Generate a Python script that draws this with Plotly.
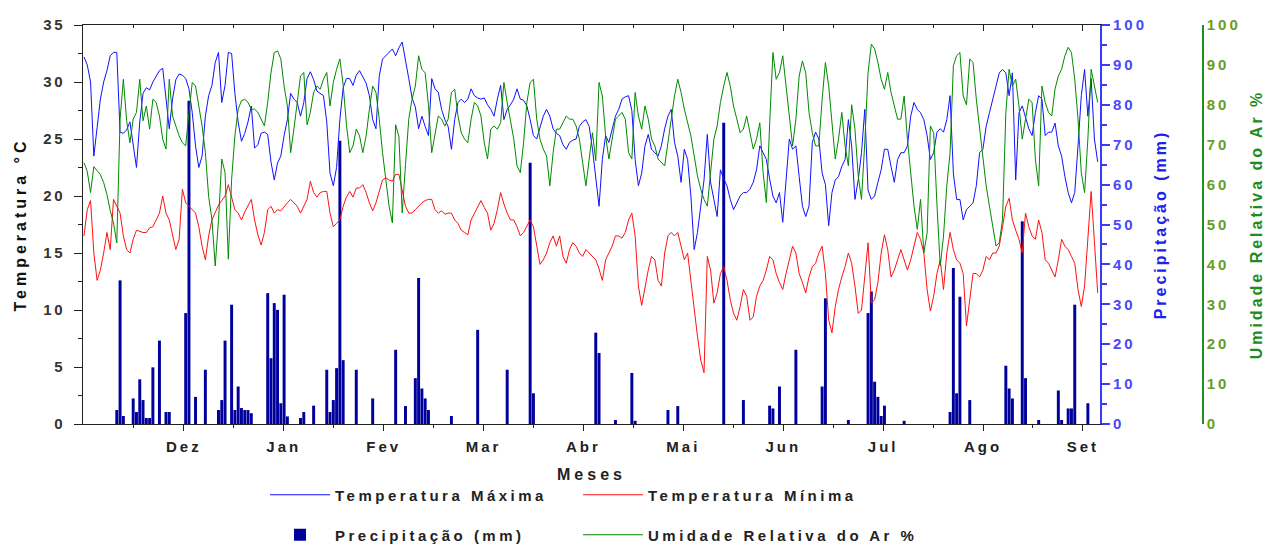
import plotly.graph_objects as go

# ---------------- data (daily, day 0 = start of Nov) ----------------
tmax = [
    32.2, 31.5, 30.0, 23.5, 26.0, 28.5, 30.0, 31.0, 32.3, 32.6,
    32.6, 25.6, 25.5, 25.8, 26.5, 24.5, 22.5, 26.5, 29.0, 29.5,
    29.3, 30.0, 30.5, 31.0, 31.2, 28.5, 25.9, 28.5, 30.2, 30.7,
    30.6, 30.3, 29.4, 27.3, 24.4, 22.5, 23.5, 27.0, 28.8, 29.7,
    31.7, 32.6, 28.2, 29.7, 32.6, 32.5, 29.0, 26.5, 24.8, 25.5,
    26.5, 27.9, 24.2, 24.5, 25.5, 25.6, 25.4, 23.0, 21.4, 22.9,
    23.5, 25.3, 26.7, 29.0, 28.5, 28.2, 27.0, 28.2, 30.3, 30.9,
    30.2, 29.2, 29.0, 28.8, 26.5, 22.0, 20.9, 22.5, 26.7, 29.5,
    30.3, 30.3, 29.7, 30.6, 31.0, 30.5, 29.9, 28.8, 26.7, 25.9,
    30.5, 32.0, 32.3, 32.6, 32.9, 32.3, 33.0, 33.5, 32.0, 30.3,
    28.6, 27.8, 25.9, 27.0, 26.1, 25.3, 30.3, 29.4, 29.1, 27.6,
    26.7, 26.1, 24.1, 26.7, 28.2, 28.5, 28.2, 28.5, 29.4, 28.8,
    28.6, 28.5, 28.6, 28.0, 27.6, 27.0, 28.5, 29.7, 26.7, 27.6,
    28.0, 28.5, 29.4, 28.5, 28.4, 27.9, 26.7, 25.3, 25.0, 25.9,
    27.0, 27.6, 27.0, 25.9, 25.5, 25.3, 24.5, 24.1, 24.7, 24.9,
    25.0, 26.1, 26.5, 26.7, 26.1, 24.1, 21.5, 19.1, 23.2, 25.3,
    24.7, 25.9, 27.0, 27.6, 28.5, 28.7, 28.8, 27.5, 23.2, 20.9,
    22.0, 24.4, 25.4, 24.1, 23.8, 23.5, 24.4, 25.9, 27.0, 27.6,
    24.7, 23.5, 21.2, 24.1, 23.2, 20.0, 15.3, 16.8, 19.1, 21.4,
    25.4, 21.2, 19.7, 18.2, 22.3, 21.5, 20.9, 19.7, 18.8, 19.4,
    20.0, 20.3, 20.3, 20.6, 21.2, 22.3, 24.4, 23.8, 23.2, 21.5,
    20.0, 19.4, 20.3, 17.7, 21.4, 25.0, 24.1, 24.4, 21.7, 19.1,
    18.2, 19.1, 24.7, 25.6, 25.0, 22.0, 21.0, 17.4, 20.3, 21.4,
    21.7, 22.6, 23.2, 26.7, 24.4, 19.7, 21.4, 23.8, 27.6, 20.5,
    19.7, 20.0, 21.2, 22.3, 24.1, 24.1, 22.6, 21.2, 23.2, 23.8,
    23.8, 24.4, 27.0, 28.2, 27.6, 27.3, 26.7, 25.3, 23.2, 23.8,
    25.6, 25.9, 25.6, 26.7, 28.8, 22.0, 19.7, 19.7, 17.9, 18.8,
    19.1, 19.4, 20.9, 23.8, 24.1, 26.1, 27.3, 28.5, 29.7, 30.8,
    31.1, 30.8, 28.8, 30.8, 21.4, 27.3, 27.9, 27.0, 25.9, 25.3,
    27.3, 28.8, 28.5, 25.3, 25.6, 25.6, 26.4, 24.4, 23.5, 21.7,
    20.3, 19.4, 20.3, 24.4, 28.8, 31.1, 27.0, 30.3, 25.0, 23.0,
]

tmin = [
    16.5, 18.8, 19.6, 15.0, 12.6, 13.5, 15.0, 16.8, 15.3, 19.7,
    19.1, 18.5, 16.5, 15.3, 15.0, 16.2, 17.0, 16.9, 16.8, 16.8,
    17.2, 17.3, 17.9, 18.5, 20.0, 18.5, 17.9, 16.5, 15.3, 16.2,
    20.6, 19.4, 19.1, 18.8, 18.5, 17.3, 15.6, 14.4, 16.5, 17.9,
    18.5, 19.2, 19.6, 20.0, 21.0, 19.9, 18.8, 18.5, 17.9, 18.6,
    19.1, 19.7, 17.9, 16.6, 15.7, 16.8, 18.8, 19.1, 18.5, 18.8,
    18.7, 19.1, 19.4, 19.7, 19.4, 19.1, 18.5, 19.1, 19.7, 21.3,
    20.3, 19.9, 20.3, 20.4, 20.4, 18.5, 17.3, 17.6, 17.9, 19.1,
    19.9, 20.4, 19.9, 20.7, 20.7, 21.0, 20.3, 19.4, 18.7, 19.4,
    20.4, 21.4, 21.6, 21.4, 21.3, 21.9, 21.9, 20.4, 19.1, 18.5,
    18.5, 18.8, 19.1, 19.4, 19.6, 19.7, 19.7, 18.8, 18.5, 18.7,
    18.4, 18.5, 18.5, 17.9, 17.6, 17.0, 16.8, 16.6, 17.9, 18.5,
    19.1, 19.6, 19.0, 18.5, 17.0, 17.6, 18.8, 20.3, 19.3, 18.5,
    17.9, 17.9, 17.3, 16.5, 16.8, 17.3, 17.9, 17.3, 15.6, 14.0,
    14.4, 15.0, 15.9, 16.5, 15.6, 16.5, 14.7, 14.1, 15.3, 15.9,
    15.6, 15.0, 14.7, 15.3, 15.0, 14.7, 14.4, 13.6, 12.6, 14.4,
    15.0, 15.6, 16.5, 16.5, 16.3, 16.8, 17.9, 18.5, 16.5, 12.1,
    10.4, 12.1, 13.5, 14.7, 14.4, 12.6, 12.1, 15.0, 16.5, 16.8,
    16.5, 16.8, 15.6, 14.4, 15.0, 12.6, 9.7, 7.7, 5.6, 4.5,
    14.7, 13.5, 10.6, 11.5, 13.2, 13.8, 12.6, 10.9, 9.7, 9.1,
    10.3, 11.8, 11.2, 9.1, 9.4, 11.2, 12.1, 12.6, 13.5, 14.7,
    14.4, 13.2, 12.4, 11.8, 13.2, 14.4, 15.6, 15.0, 13.2, 12.4,
    11.5, 12.9, 13.8, 14.1, 15.0, 15.6, 13.2, 9.1, 8.0, 10.3,
    11.8, 12.9, 13.8, 15.0, 14.1, 12.1, 9.7, 10.0, 13.2, 15.9,
    10.6, 10.9, 12.4, 15.0, 16.6, 15.3, 12.9, 13.5, 14.4, 15.3,
    14.4, 13.5, 14.4, 15.6, 16.8, 16.2, 15.0, 11.8, 9.9, 11.2,
    13.2, 14.4, 11.8, 15.0, 16.8, 15.3, 14.4, 14.1, 13.2, 8.6,
    11.0, 13.2, 13.2, 12.9, 13.5, 14.7, 14.4, 15.0, 15.0, 15.6,
    17.3, 19.1, 19.8, 17.9, 17.0, 16.2, 15.0, 18.5, 17.3, 16.5,
    16.2, 17.9, 16.8, 14.4, 14.1, 13.5, 12.9, 14.4, 16.2, 15.6,
    15.3, 14.7, 14.1, 11.8, 10.3, 12.1, 16.0, 20.4, 16.0, 11.5,
]

umidade = [
    65.5, 63.3, 58.0, 64.5, 63.5, 62.5, 60.5, 57.5, 53.5, 50.4,
    45.4, 76.4, 86.4, 76.0, 70.5, 76.4, 78.1, 86.4, 76.0, 79.7,
    73.9, 81.4, 80.6, 77.2, 71.4, 68.9, 86.4, 77.2, 74.7, 72.2,
    70.5, 69.7, 78.0, 85.6, 84.7, 79.7, 74.7, 68.0, 57.0, 51.3,
    39.6, 51.0, 66.4, 63.0, 41.3, 61.3, 72.2, 78.9, 81.0, 81.4,
    80.6, 78.9, 78.9, 78.1, 76.4, 74.7, 80.6, 88.0, 93.1, 93.5,
    91.5, 84.7, 79.7, 68.0, 74.0, 80.6, 87.2, 88.1, 75.0, 78.1,
    83.1, 84.7, 83.9, 86.4, 88.1, 79.7, 85.6, 88.9, 91.5, 85.0,
    75.0, 68.0, 69.7, 73.9, 72.2, 68.0, 72.2, 78.9, 84.7, 83.1,
    76.4, 68.0, 61.3, 54.6, 50.4, 75.0, 72.0, 52.9, 65.0, 76.4,
    81.4, 84.7, 92.3, 88.9, 88.0, 80.0, 68.0, 72.2, 77.2, 76.4,
    74.7, 76.4, 83.1, 83.9, 77.2, 73.0, 71.4, 70.5, 76.4, 80.6,
    79.7, 77.2, 70.5, 66.4, 73.9, 74.7, 73.9, 75.5, 85.6, 80.6,
    75.5, 71.4, 64.7, 63.0, 70.5, 80.6, 85.6, 86.4, 76.4, 71.4,
    68.9, 67.2, 59.7, 68.0, 73.9, 73.9, 75.5, 77.2, 76.4, 76.4,
    74.7, 71.4, 65.5, 59.7, 66.4, 73.0, 66.0, 85.6, 82.2, 72.2,
    66.4, 71.4, 76.4, 77.2, 78.1, 76.4, 68.0, 66.4, 83.1, 77.2,
    73.9, 79.7, 76.4, 71.4, 69.7, 66.4, 65.5, 64.7, 70.5, 76.4,
    82.2, 86.4, 83.1, 78.9, 75.5, 72.2, 67.2, 62.2, 58.8, 56.3,
    54.6, 63.0, 71.4, 74.7, 80.6, 84.7, 88.1, 84.7, 79.7, 76.4,
    73.0, 73.9, 77.2, 73.0, 68.9, 71.4, 75.5, 63.0, 55.5, 75.0,
    93.1, 86.4, 88.1, 92.3, 84.7, 76.4, 69.7, 76.4, 87.2, 91.0,
    88.0, 78.1, 73.0, 69.7, 69.7, 81.4, 90.6, 84.7, 76.4, 66.4,
    71.4, 78.1, 69.7, 64.7, 80.0, 73.9, 62.2, 56.3, 70.5, 88.1,
    95.2, 94.0, 90.6, 86.4, 83.9, 88.1, 83.1, 79.7, 76.4, 76.4,
    82.2, 71.4, 63.8, 54.6, 48.8, 56.3, 42.9, 47.9, 74.7, 73.0,
    55.0, 39.6, 47.1, 59.7, 68.0, 89.8, 92.3, 93.1, 82.2, 80.0,
    91.5, 90.6, 81.4, 73.9, 68.0, 59.7, 54.6, 49.6, 44.6, 45.4,
    51.3, 78.1, 88.9, 84.7, 86.4, 79.7, 71.4, 76.4, 81.4, 80.6,
    66.4, 59.7, 84.7, 80.6, 78.1, 77.2, 84.0, 87.2, 88.9, 92.3,
    94.4, 93.1, 86.4, 76.4, 63.0, 58.0, 71.4, 88.9, 84.7, 80.6,
]

precip_days = [10, 11, 12, 15, 16, 17, 18, 19, 20, 21, 23, 25, 26, 31, 32, 34, 37, 41, 42, 43,
               45, 46, 47, 48, 49, 50, 51,
               56, 57, 58, 59, 60, 61, 62, 66, 67, 70, 74, 75, 76, 77, 78, 79, 83, 88, 95, 98,
               101, 102, 103, 104, 105,
               112, 120, 129, 136, 137, 156, 157, 162, 167, 168, 178, 181, 195, 201, 209, 210,
               212, 217, 225, 226, 233, 239, 240, 241, 242, 243, 244, 250,
               264, 265, 266, 267, 270, 281, 282, 283, 286, 287, 291, 297, 298, 300, 301, 302, 306]
precip_mm = [3.5, 36.0, 2.0, 6.4, 3.0, 11.2, 6.0, 1.5, 1.5, 14.2, 20.9, 3.0, 3.0, 27.8, 81.0, 6.8, 13.6, 3.5, 6.0, 20.9,
             29.9, 3.5, 9.4, 4.0, 3.5, 3.5, 2.7,
             32.8, 16.5, 30.3, 28.6, 5.2, 32.4, 1.9, 1.5, 3.0, 4.6, 13.6, 3.0, 6.0, 14.0, 71.0, 16.0, 13.6, 6.4, 18.6, 4.5,
             11.5, 36.6, 8.9, 6.4, 3.5,
             2.0, 23.6, 13.6, 65.5, 7.7, 22.9, 17.8, 1.0, 12.8, 0.8, 3.5, 4.5, 75.5, 6.0, 4.6, 3.9,
             9.4, 18.6, 9.4, 31.5, 1.0, 27.8, 33.2, 10.6, 6.8, 2.0, 4.6, 0.8,
             3.0, 39.1, 7.7, 31.9, 6.0, 14.6, 8.9, 6.4, 50.8, 11.5, 1.0, 8.4, 1.0, 3.9, 3.9, 29.9, 5.2]

month_labels = ["Dez", "Jan", "Fev", "Mar", "Abr", "Mai", "Jun", "Jul", "Ago", "Set"]
temp_ticks = [0, 5, 10, 15, 20, 25, 30, 35]
pct_ticks = [0, 10, 20, 30, 40, 50, 60, 70, 80, 90, 100]

# ---------------- helpers / geometry ----------------
FONT = "Liberation Sans"


def sp(text, px):
    return '<span style="letter-spacing:%spx">%s</span>' % (px, text)


days = list(range(len(tmax)))
month_len = 30.45
tick_days = [month_len * (i + 1) for i in range(len(month_labels))]
mid_days = [month_len * (i + 0.5) for i in range(len(month_labels))]
xr = [-0.3, 309.7]

W, H = 1268, 547
ML, MR, MT, MB = 83, 50, 25, 123
PW = W - ML - MR
XD = (1100 - ML) / PW
P3 = (1203 - ML) / PW

fig = go.Figure()
fig.add_trace(go.Bar(
    x=precip_days, y=precip_mm, name=sp("Precipitação (mm)", 3.5),
    marker=dict(color="#00009c", line=dict(width=0)), width=0.9,
    xaxis="x", yaxis="y", legend="legend3"))
fig.add_trace(go.Scatter(
    x=days, y=tmax, mode="lines", name=sp("Temperatura Máxima", 3.5),
    line=dict(color="#1010ff", width=1), xaxis="x", yaxis="y2", legend="legend"))
fig.add_trace(go.Scatter(
    x=days, y=tmin, mode="lines", name=sp("Temperatura Mínima", 3.5),
    line=dict(color="#ff1010", width=1), xaxis="x", yaxis="y2", legend="legend2"))
fig.add_trace(go.Scatter(
    x=days, y=umidade, mode="lines", name=sp("Umidade Relativa do Ar %", 3.5),
    line=dict(color="#008a00", width=1), xaxis="x", yaxis="y3", legend="legend4"))
# carrier for the top (mirrored, inward) tick axis
fig.add_trace(go.Scatter(x=[None], y=[None], xaxis="x2", yaxis="y",
                         showlegend=False, hoverinfo="skip"))

blue = "#3a3aff"
green_line = "#1f8f1f"
COL1 = (265 - ML) / PW
COL2 = (578 - ML) / PW
ROW1 = (424 - 495) / 399
ROW2 = (424 - 535) / 399
leg_common = dict(
    orientation="h", xanchor="left", yanchor="middle", itemwidth=60,
    font=dict(family=FONT, size=15, weight="bold", color="#222"),
    bgcolor="rgba(0,0,0,0)", borderwidth=0,
)
fig.update_layout(
    width=W, height=H,
    margin=dict(l=ML, r=MR, t=MT, b=MB, autoexpand=False),
    paper_bgcolor="white", plot_bgcolor="white",
    font=dict(family=FONT, size=15, color="#222"),
    barmode="overlay",
    xaxis=dict(
        domain=[0, XD], range=xr, anchor="y",
        tickmode="array", tickvals=tick_days,
        ticktext=[sp(m, 3) for m in month_labels],
        ticks="outside", ticklen=6, tickwidth=1, tickcolor="#222",
        minor=dict(tickvals=mid_days, ticks="outside", ticklen=3, tickcolor="#222"),
        showline=True, linecolor="#222", linewidth=1, mirror=True,
        showgrid=False, zeroline=False, ticklabelstandoff=3,
        tickfont=dict(family=FONT, size=15, weight="bold", color="#222"),
        title=dict(text=sp("Meses", 4), standoff=14,
                   font=dict(family=FONT, size=16, weight="bold", color="#222")),
    ),
    xaxis2=dict(
        overlaying="x", side="top", anchor="y", range=xr,
        tickmode="array", tickvals=tick_days, ticks="inside", ticklen=6,
        tickcolor="#222", showticklabels=False,
        minor=dict(tickvals=mid_days, ticks="inside", ticklen=3, tickcolor="#222"),
        showline=False, showgrid=False, zeroline=False,
    ),
    yaxis=dict(
        side="right", anchor="x", range=[0, 100],
        tickmode="array", tickvals=pct_ticks, ticktext=[sp(v, 3) for v in pct_ticks],
        ticks="outside", ticklen=8, tickwidth=1.5, tickcolor=blue,
        minor=dict(dtick=5, tick0=0, ticks="outside", ticklen=5, tickcolor=blue),
        showline=True, linecolor=blue, linewidth=2,
        showgrid=False, zeroline=False,
        tickfont=dict(family=FONT, size=15, weight="bold", color="#4848ff"),
        title=dict(text=sp("Precipitação (mm)", 3), standoff=9,
                   font=dict(family=FONT, size=16, weight="bold", color="#2020f0")),
    ),
    yaxis2=dict(
        overlaying="y", side="left", anchor="x", range=[0, 35],
        tickmode="array", tickvals=temp_ticks, ticktext=[sp(v, 2.5) for v in temp_ticks],
        ticks="outside", ticklen=8, tickwidth=1, tickcolor="#222",
        minor=dict(dtick=2.5, tick0=0, ticks="outside", ticklen=4, tickcolor="#222"),
        showline=True, linecolor="#222", linewidth=1,
        showgrid=False, zeroline=False, ticklabelstandoff=6,
        tickfont=dict(family=FONT, size=15, weight="bold", color="#333"),
        title=dict(text=sp("Temperatura °C", 4), standoff=12,
                   font=dict(family=FONT, size=16, weight="bold", color="#111")),
    ),
    yaxis3=dict(
        overlaying="y", side="right", anchor="free", position=P3, range=[0, 100],
        tickmode="array", tickvals=pct_ticks, ticktext=[sp(v, 3) for v in pct_ticks],
        ticks="", showline=True, linecolor=green_line, linewidth=1.5,
        showgrid=False, zeroline=False,
        tickfont=dict(family=FONT, size=15, weight="bold", color="#6a9c22"),
        title=dict(text=sp("Umidade Relativa do Ar %", 3), standoff=10,
                   font=dict(family=FONT, size=16, weight="bold", color="#1f8c1f")),
    ),
    legend=dict(x=COL1, y=ROW1, **leg_common),
    legend2=dict(x=COL2, y=ROW1, **leg_common),
    legend3=dict(x=COL1, y=ROW2, **leg_common),
    legend4=dict(x=COL2, y=ROW2, **leg_common),
)

fig.write_html("out.html", config={"displayModeBar": False},
               post_script="document.body.style.margin='0px';")
